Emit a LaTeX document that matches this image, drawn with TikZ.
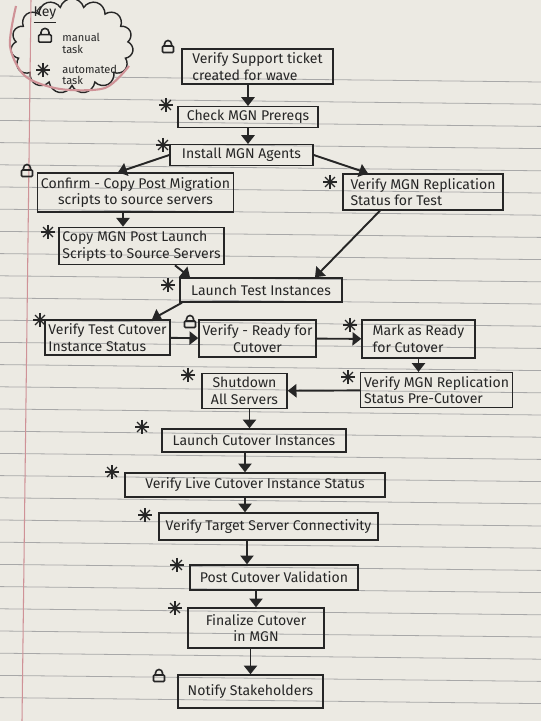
\documentclass[tikz,border=0pt]{standalone}
\usepackage{fontspec}
\setmainfont{Fira Sans}
\usetikzlibrary{arrows.meta,shapes.symbols}

\definecolor{paper}{HTML}{ECEAE3}
\definecolor{rule}{HTML}{A8A8A8}
\definecolor{margin}{HTML}{CF9297}
\definecolor{ink}{HTML}{262626}

\begin{document}
\begin{tikzpicture}[
    font=\fontsize{8}{9.5}\selectfont,
    task/.style={draw=ink, line width=0.8pt, text=ink, inner sep=2pt},
    keytext/.style={text=ink, align=left, inner sep=0pt, anchor=west, font=\fontsize{6.3}{6.5}\selectfont},
    flow/.style={-{Triangle[width=7.5pt,length=5pt]}, draw=ink, line width=1.1pt},
    lockicon/.pic={
      \draw[ink, line width=0.9pt, rounded corners=0.6pt] (-0.11,-0.09) rectangle (0.11,0.04);
      \draw[ink, line width=0.9pt] (-0.07,0.04) -- (-0.07,0.08) arc (180:0:0.07) -- (0.07,0.04);
    },
    staricon/.pic={
      \foreach \a in {0,45,90,135}
        \draw[ink, line width=0.7pt] (\a:0.14) -- (\a+180:0.14);
    }
  ]
      % Paper
      \useasboundingbox[fill=paper] (0,0) rectangle (10.82,14.42);
      \foreach \k in {0,...,28}
        \draw[rule, line width=0.45pt] (0,{12.90-0.444*\k}) -- (10.82,{12.78-0.444*\k});

      % Key
      \node[cloud, cloud puffs=15, cloud ignores aspect, draw=ink, fill=paper, line width=0.8pt,
            minimum width=2.45cm, minimum height=1.9cm] (keycloud) at (1.44,13.50) {};
      \draw[margin, line width=1.2pt] plot[smooth] coordinates {(0.32,14.30) (0.20,13.5) (0.5,12.9) (1.2,12.64) (2.1,12.66) (2.58,13.1)};
      \draw[margin, line width=0.6pt] (0.62,14.42) -- (0.44,0);
      \node[text=ink, inner sep=0pt] (keytitle) at (0.90,14.12) {\underline{Key}};
      \pic[scale=1.15] at (0.90,13.68) {lockicon};
      \node[keytext] (keymanual) at (1.24,13.55) {manual\\task};
      \pic at (0.86,13.02) {staricon};
      \node[keytext] (keyauto) at (1.24,12.92) {automated\\task};

      % Boxes
      \node[task, minimum width=3.02cm, minimum height=0.66cm, align=left] (ticket) at (5.15,13.09) {Verify Support ticket\\created for wave};
      \node[task, minimum width=2.80cm, minimum height=0.40cm] (prereq) at (4.96,12.08) {Check MGN Prereqs};
      \node[task, minimum width=2.86cm, minimum height=0.40cm] (agents) at (4.83,11.32) {Install MGN Agents};
      \node[task, minimum width=3.90cm, minimum height=0.78cm, align=center] (scripts) at (2.71,10.57) {Confirm - Copy Post Migration\\scripts to source servers};
      \node[task, minimum width=3.20cm, minimum height=0.72cm, align=left] (repltest) at (8.46,10.58) {Verify MGN Replication\\Status for Test};
      \node[task, minimum width=3.26cm, minimum height=0.56cm, align=left] (copypost) at (2.83,9.50) {Copy MGN Post Launch\\Scripts to Source Servers};
      \node[task, minimum width=3.24cm, minimum height=0.48cm] (launchtest) at (5.22,8.62) {Launch Test Instances};
      \node[task, minimum width=2.30cm, minimum height=0.70cm, align=left] (verifytest) at (2.15,7.67) {Verify Test Cutover\\Instance Status};
      \node[task, minimum width=2.22cm, minimum height=0.74cm, align=center] (ready) at (5.15,7.65) {Verify - Ready for\\Cutover};
      \node[task, minimum width=2.26cm, minimum height=0.76cm, align=left] (mark) at (8.37,7.64) {Mark as Ready\\for Cutover};
      \node[task, minimum width=2.94cm, minimum height=0.60cm, align=left] (replpre) at (8.73,6.62) {Verify MGN Replication\\Status Pre-Cutover};
      \node[task, minimum width=1.70cm, minimum height=0.64cm, align=center] (shutdown) at (4.89,6.60) {Shutdown\\All Servers};
      \node[task, minimum width=3.68cm, minimum height=0.46cm] (launchcut) at (5.08,5.61) {Launch Cutover Instances};
      \node[task, minimum width=5.20cm, minimum height=0.48cm] (livestatus) at (5.10,4.72) {Verify Live Cutover Instance Status};
      \node[task, minimum width=4.38cm, minimum height=0.54cm] (connect) at (5.37,3.89) {Verify Target Server Connectivity};
      \node[task, minimum width=3.36cm, minimum height=0.50cm] (postval) at (5.48,2.87) {Post Cutover Validation};
      \node[task, minimum width=2.72cm, minimum height=0.80cm, align=center] (finalize) at (5.12,1.86) {Finalize Cutover\\in MGN};
      \node[task, minimum width=2.90cm, minimum height=0.66cm] (notify) at (5.01,0.59) {Notify Stakeholders};

      % Manual / automated marks
      \pic at (3.36,13.46) {lockicon};
      \pic at (3.32,12.32) {staricon};
      \pic at (3.26,11.52) {staricon};
      \pic at (0.54,10.98) {lockicon};
      \pic at (6.60,10.78) {staricon};
      \pic at (0.96,9.78) {staricon};
      \pic at (3.36,8.72) {staricon};
      \pic at (0.80,8.02) {staricon};
      \pic at (3.80,7.96) {lockicon};
      \pic at (7.00,7.92) {staricon};
      \pic at (6.96,6.88) {staricon};
      \pic at (3.76,6.92) {staricon};
      \pic at (2.84,5.88) {staricon};
      \pic at (2.24,4.98) {staricon};
      \pic at (2.90,4.12) {staricon};
      \pic at (3.54,3.12) {staricon};
      \pic at (3.50,2.26) {staricon};
      \pic at (3.18,0.88) {lockicon};

      % Arrows
      \draw[flow] (prereq.north |- ticket.south) -- (prereq.north);
      \draw[flow] (prereq.south) -- (prereq.south |- agents.north);
      \draw[flow] (agents.west) -- ([xshift=-0.35cm]scripts.north);
      \draw[flow] (agents.east) -- ([xshift=-1.1cm]repltest.north);
      \draw[flow] ([xshift=-0.25cm]scripts.south) -- ([xshift=-0.25cm]scripts.south |- copypost.north);
      \draw[flow] ([xshift=0.67cm]copypost.south) -- ([xshift=-1.42cm]launchtest.north);
      \draw[flow] ([xshift=-0.86cm]repltest.south) -- ([xshift=1.08cm]launchtest.north);
      \draw[flow] ([xshift=-1.58cm]launchtest.south) -- ([xshift=0.89cm]verifytest.north);
      \draw[flow] (verifytest) -- (ready);
      \draw[flow] (ready) -- (mark);
      \draw[flow] (mark.south) -- (mark.south |- replpre.north);
      \draw[flow] (replpre) -- (shutdown);
      \draw[flow] ([xshift=0.1cm]shutdown.south) -- ([xshift=0.1cm]shutdown.south |- launchcut.north);
      \draw[flow] ([xshift=-0.18cm]launchcut.south) -- ([xshift=-0.18cm]launchcut.south |- livestatus.north);
      \draw[flow] ([xshift=-0.2cm]livestatus.south) -- ([xshift=-0.2cm]livestatus.south |- connect.north);
      \draw[flow] ([xshift=-0.43cm]connect.south) -- ([xshift=-0.43cm]connect.south |- postval.north);
      \draw[flow] (finalize.north |- postval.south) -- (finalize.north);
      \draw[flow] (notify.north |- finalize.south) -- (notify.north);
\end{tikzpicture}
\end{document}
